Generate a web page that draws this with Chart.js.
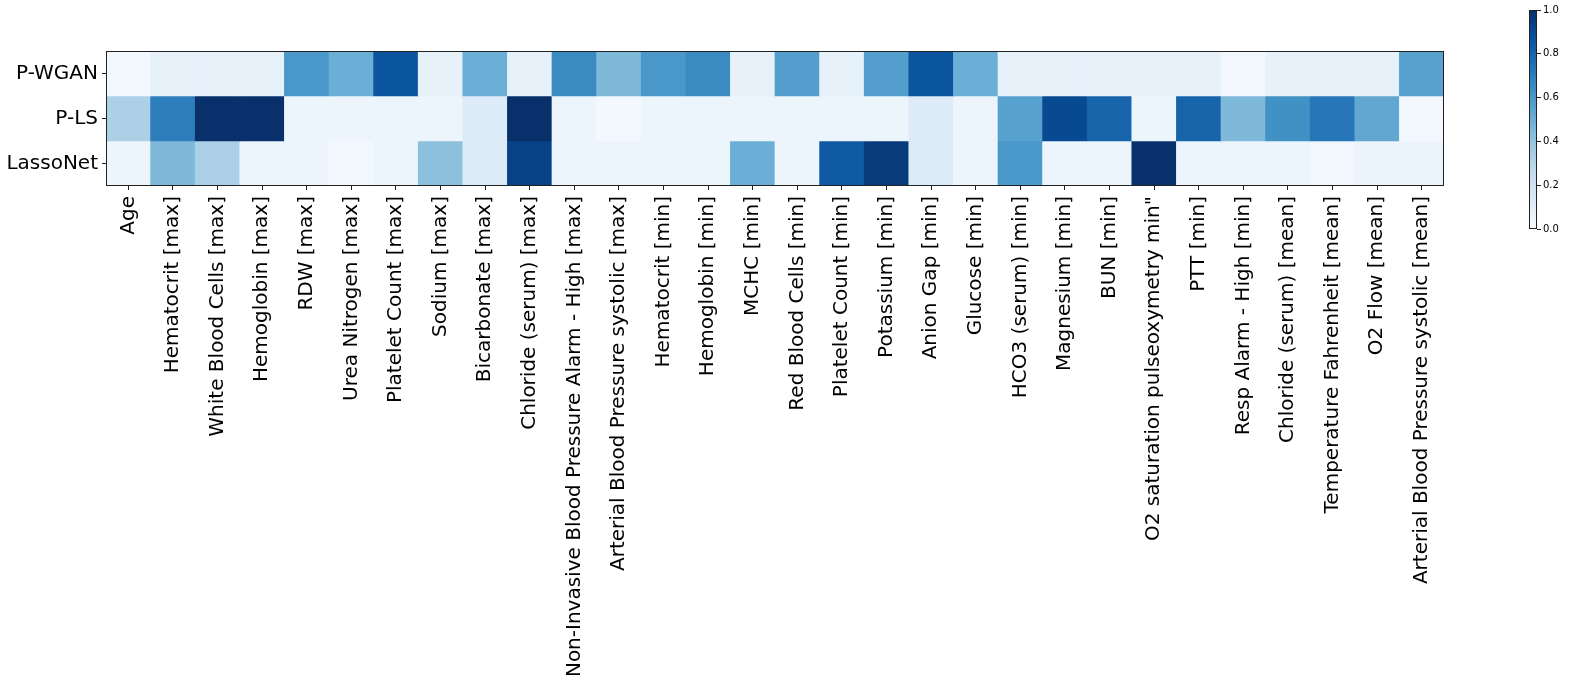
<!DOCTYPE html>
<html>
<head>
<meta charset="utf-8">
<script src="https://cdn.jsdelivr.net/npm/chart.js@4"></script>
<style>
  html, body { margin: 0; padding: 0; background: #fff; width: 1569px; height: 683px; overflow: hidden; }
  #main { position: absolute; left: 0; top: 0; }
  #cbar { position: absolute; left: 1500px; top: 0; }
</style>
</head>
<body>
<canvas id="main" width="1569" height="683"></canvas>
<canvas id="cbar" width="69" height="240"></canvas>
<script>
const features = [
  "Age", "Hematocrit [max]", "White Blood Cells [max]", "Hemoglobin [max]", "RDW [max]",
  "Urea Nitrogen [max]", "Platelet Count [max]", "Sodium [max]", "Bicarbonate [max]",
  "Chloride (serum) [max]", "Non-Invasive Blood Pressure Alarm - High [max]",
  "Arterial Blood Pressure systolic [max]", "Hematocrit [min]", "Hemoglobin [min]",
  "MCHC [min]", "Red Blood Cells [min]", "Platelet Count [min]", "Potassium [min]",
  "Anion Gap [min]", "Glucose [min]", "HCO3 (serum) [min]", "Magnesium [min]", "BUN [min]",
  "O2 saturation pulseoxymetry min\"", "PTT [min]", "Resp Alarm - High [min]",
  "Chloride (serum) [mean]", "Temperature Fahrenheit [mean]", "O2 Flow [mean]",
  "Arterial Blood Pressure systolic [mean]"
];
const methods = ["P-WGAN", "P-LS", "LassoNet"];

const pwgan = [0.02, 0.08, 0.08, 0.08, 0.60, 0.50, 0.86, 0.08, 0.50, 0.08,
               0.65, 0.45, 0.60, 0.65, 0.08, 0.57, 0.08, 0.57, 0.86, 0.50,
               0.08, 0.08, 0.08, 0.08, 0.08, 0.03, 0.08, 0.08, 0.08, 0.56];
const pls   = [0.33, 0.70, 1.00, 1.00, 0.05, 0.05, 0.05, 0.05, 0.13, 1.00,
               0.05, 0.02, 0.05, 0.05, 0.05, 0.05, 0.05, 0.05, 0.13, 0.05,
               0.56, 0.90, 0.80, 0.05, 0.80, 0.45, 0.63, 0.73, 0.53, 0.03];
const lassonet = [0.05, 0.45, 0.33, 0.05, 0.05, 0.02, 0.05, 0.42, 0.13, 0.93,
               0.05, 0.05, 0.05, 0.05, 0.50, 0.05, 0.84, 0.96, 0.13, 0.05,
               0.60, 0.05, 0.05, 1.00, 0.05, 0.05, 0.05, 0.03, 0.06, 0.06];
const seriesValues = [pwgan, pls, lassonet];

const colorbarTicks = [0.0, 0.2, 0.4, 0.6, 0.8, 1.0];

// matplotlib "Blues" colormap stops
const BLUES = [
  [247,251,255],[222,235,247],[198,219,239],[158,202,225],[107,174,214],
  [66,146,198],[33,113,181],[8,81,156],[8,48,107]
];
function blues(v) {
  v = Math.max(0, Math.min(1, v));
  const p = v * (BLUES.length - 1);
  const i = Math.min(Math.floor(p), BLUES.length - 2);
  const f = p - i;
  const a = BLUES[i], b = BLUES[i + 1];
  const c = a.map((x, k) => Math.round(x + (b[k] - x) * f));
  return `rgb(${c[0]},${c[1]},${c[2]})`;
}

Chart.defaults.font.family = "'DejaVu Sans', sans-serif";
Chart.defaults.color = "#000";

const frame = {
  id: 'frame',
  afterDatasetsDraw(chart) {
    const a = chart.chartArea, ctx = chart.ctx;
    ctx.save();
    ctx.strokeStyle = '#222';
    ctx.lineWidth = 1;
    ctx.strokeRect(Math.round(a.left) + 0.5, Math.round(a.top) + 0.5,
                   Math.round(a.right - a.left) - 1, Math.round(a.bottom - a.top) - 1);
    ctx.restore();
  }
};

const datasets = methods.map((m, r) => ({
  label: m,
  data: seriesValues[r].map(() => [r, r + 1]),
  backgroundColor: seriesValues[r].map(blues),
  borderWidth: 0,
  grouped: false,
  barPercentage: 1.0,
  categoryPercentage: 1.0
}));

new Chart(document.getElementById('main'), {
  type: 'bar',
  data: { labels: features, datasets },
  options: {
    responsive: false,
    animation: false,
    devicePixelRatio: 1,
    layout: { padding: { top: 51, right: 125, left: 0, bottom: 0 } },
    plugins: { legend: { display: false }, tooltip: { enabled: false } },
    scales: {
      x: {
        type: 'category',
        offset: true,
        grid: { display: true, drawOnChartArea: false, offset: false, tickLength: 4, color: '#222', tickColor: '#222' },
        border: { display: false },
        ticks: { minRotation: 90, maxRotation: 90, autoSkip: false, font: { size: 20 }, color: '#000', padding: 6 },
        afterFit(scale) { scale.height = 497; }
      },
      y: {
        type: 'linear',
        min: 0, max: 3, reverse: true,
        afterBuildTicks(scale) { scale.ticks = methods.map((m, i) => ({ value: i + 0.5 })); },
        ticks: { callback: (v) => methods[Math.floor(v)], font: { size: 20 }, color: '#000', padding: 4 },
        grid: { display: true, drawOnChartArea: false, tickLength: 4, color: '#222', tickColor: '#222' },
        border: { display: false },
        afterFit(scale) { scale.width = 106; }
      }
    }
  },
  plugins: [frame]
});

new Chart(document.getElementById('cbar'), {
  type: 'bar',
  data: {
    labels: [''],
    datasets: [{
      data: [[0, 1]],
      borderWidth: 0,
      barPercentage: 1.0,
      categoryPercentage: 1.0,
      backgroundColor(ctx) {
        const a = ctx.chart.chartArea;
        if (!a) return blues(0.5);
        const g = ctx.chart.ctx.createLinearGradient(0, a.bottom, 0, a.top);
        BLUES.forEach((c, i) => g.addColorStop(i / (BLUES.length - 1), `rgb(${c[0]},${c[1]},${c[2]})`));
        return g;
      }
    }]
  },
  options: {
    responsive: false,
    animation: false,
    devicePixelRatio: 1,
    layout: { padding: { top: 10, bottom: 11, left: 29, right: 0 } },
    plugins: { legend: { display: false }, tooltip: { enabled: false } },
    scales: {
      x: { display: false },
      y: {
        position: 'right',
        min: 0, max: 1,
        afterBuildTicks(scale) { scale.ticks = colorbarTicks.map(v => ({ value: v })); },
        ticks: { callback: (v) => Number(v).toFixed(1), font: { size: 10 }, color: '#000', padding: 2 },
        grid: { display: true, drawOnChartArea: false, tickLength: 4, color: '#222', tickColor: '#222' },
        border: { display: false },
        afterFit(scale) { scale.width = 32; }
      }
    }
  },
  plugins: [frame]
});
</script>
</body>
</html>
